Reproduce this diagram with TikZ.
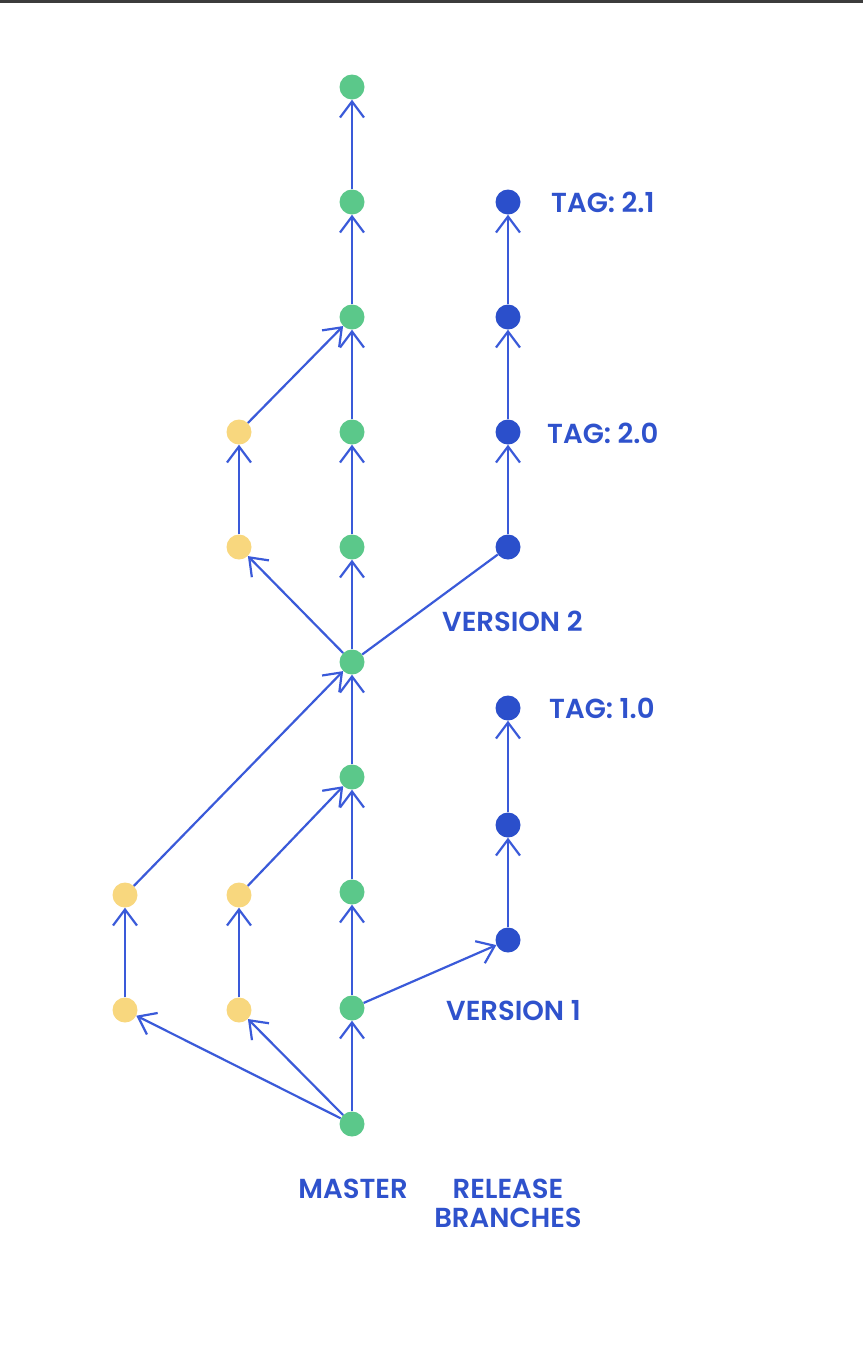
\documentclass[tikz,border=0pt]{standalone}
\usepackage{fontspec}
\setmainfont{Poppins}[BoldFont={* SemiBold}]
\usetikzlibrary{arrows.meta}
\definecolor{cgreen}{HTML}{5BC88A}
\definecolor{cyellow}{HTML}{F8D77E}
\definecolor{cblue}{HTML}{2B4FCB}
\definecolor{cline}{HTML}{3A5AD9}
\definecolor{ctext}{HTML}{2F52CC}
\definecolor{cbar}{HTML}{3C3C3C}
\begin{document}
\begin{tikzpicture}[x=1pt,y=-1pt,
  commit/.style={circle,inner sep=0pt,minimum size=25pt,draw=none},
  gc/.style={commit,fill=cgreen},
  yc/.style={commit,fill=cyellow},
  bc/.style={commit,fill=cblue},
  link/.style={draw=cline,line width=2.2pt,-{Straight Barb[length=16pt,width=24pt]}},
  plain/.style={draw=cline,line width=2.2pt},
  lbl/.style={text=ctext,font=\bfseries\fontsize{27.5}{29}\selectfont,inner sep=0pt}]
\useasboundingbox (0,0) rectangle (863,1350);
\fill[cbar] (0,0) rectangle (863,3);
% master
\node[gc] (m0) at (352,1124) {};
\node[gc] (m1) at (352,1008) {};
\node[gc] (m2) at (352,892) {};
\node[gc] (m3) at (352,777) {};
\node[gc] (m4) at (352,662) {};
\node[gc] (m5) at (352,547) {};
\node[gc] (m6) at (352,432) {};
\node[gc] (m7) at (352,317) {};
\node[gc] (m8) at (352,202) {};
\node[gc] (m9) at (352,87) {};
% feature branches
\node[yc] (a1) at (125,1010) {};
\node[yc] (a2) at (125,895) {};
\node[yc] (b1) at (239,1010) {};
\node[yc] (b2) at (239,895) {};
\node[yc] (c1) at (239,547) {};
\node[yc] (c2) at (239,432) {};
% release branches
\node[bc] (r1) at (508,940) {};
\node[bc] (r2) at (508,825) {};
\node[bc] (r3) at (508,708) {};
\node[bc] (s1) at (508,547) {};
\node[bc] (s2) at (508,432) {};
\node[bc] (s3) at (508,317) {};
\node[bc] (s4) at (508,202) {};
% edges
\draw[link] (m0) -- (m1);
\draw[link] (m1) -- (m2);
\draw[link] (m2) -- (m3);
\draw[link] (m3) -- (m4);
\draw[link] (m4) -- (m5);
\draw[link] (m5) -- (m6);
\draw[link] (m6) -- (m7);
\draw[link] (m7) -- (m8);
\draw[link] (m8) -- (m9);
\draw[link] (m0) -- (a1);
\draw[link] (m0) -- (b1);
\draw[link] (a1) -- (a2);
\draw[link] (b1) -- (b2);
\draw[link] (a2) -- (m4);
\draw[link] (b2) -- (m3);
\draw[link] (m1) -- (r1);
\draw[link] (r1) -- (r2);
\draw[link] (r2) -- (r3);
\draw[link] (m4) -- (c1);
\draw[link] (c1) -- (c2);
\draw[link] (c2) -- (m7);
\draw[plain] (m4) -- (s1);
\draw[link] (s1) -- (s2);
\draw[link] (s2) -- (s3);
\draw[link] (s3) -- (s4);
% labels
\node[lbl,anchor=west] (t21) at (551,202) {TAG: 2.1};
\node[lbl,anchor=west] (t20) at (547,433) {TAG: 2.0};
\node[lbl,anchor=west] (v2) at (442,621) {VERSION 2};
\node[lbl,anchor=west] (t10) at (549,708) {TAG: 1.0};
\node[lbl,anchor=west] (v1) at (446,1011) {VERSION 1};
\node[lbl] (ms) at (353,1189) {MASTER};
\node[lbl,align=center] (rb) at (508,1203) {RELEASE\\BRANCHES};
\end{tikzpicture}
\end{document}
